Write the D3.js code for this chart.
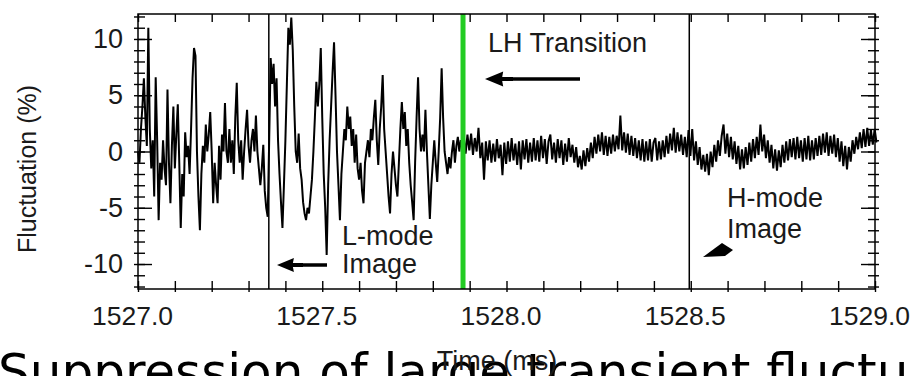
<!DOCTYPE html>
<html>
<head>
<meta charset="utf-8">
<script src="https://cdn.jsdelivr.net/npm/d3@7"></script>
<style>
  html, body { margin: 0; padding: 0; background: #fff; overflow: hidden; }
  svg { display: block; }
  text { font-family: "Liberation Sans", Arial, sans-serif; fill: #1a1a1a; }
</style>
</head>
<body>
<svg id="chart" width="910" height="376"></svg>
<script>
// L-mode part of the trace, sampled every 0.004 ms from 1527.000
const lmodeStart = 1527.0;
const lmodeStep = 0.004;
const lmodeValues = [
  0, -1, 2, 4, 6.5, 3, 0.5, 11, 2, -1.5,
  1, -4, 6.6, 1, -6.1, -1, -2.5, 1, -1.5, -3,
  5.5, -1, -4.6, 0.5, 4, -1.5, 1.5, 4.2, -1, -6.8,
  -2, -4, 1.7, -0.5, 0.5, -2, 2, 6.5, 9.2, 8.5,
  0, -4, -7, -2, 0.5, -1, 2.4, 0, 1.5, 3.5,
  0, -4.6, -1, -3, -4.6, 0.5, -2.5, 1.5, 0, 4.3,
  0, -1, 2, -1, 1, -2, 3, 6.1, 1, -1,
  1, -2.5, 0, 2, 3.7, 0.5, -1, 1, 2, 0,
  3.2, 0, -1.5, -3, -1.5, 0.6, -3.5, -5, -5.8, 1,
  8.3, 6, 7.8, 4, 6.5, 1, -2, -4.5, -6.8, -3,
  1, 6, 11, 9.5, 11.9, 9, 4, 0, -1, 1.6,
  -1.5, -2.5, -4.5, -5.5, -6.1, -5, -5.5, -4, -2.5, 0,
  3, 6.2, 4, 6, 9.2, 3, -2, -5, -9.2, -3,
  1, 4, 7, 9.7, 5, 0, -3, -6.1, -2, 0,
  2, 1, 4, 2, 3.1, 0.5, 2, -1, 1.5, -1.5,
  -2.5, -1, -3.5, -4.6, -1, 0, 1, -0.5, 2, 1,
  3, 4.6, 1, -1.2, 2, 4, 6.8, 2, 0, -2,
  -4, -5.5, -2, 0, -1.5, -3, -4, -1, 2, 4.4,
  2, 3.5, 0.5, 2, -1, -3, -4.5, -6.1, -1, 3,
  6.6, 2, 0, 1.5, 0, 3.7, 0, -3, -6, -3,
  -1, 1, -1, -2.7, 0, 3, 7.4, 3, 0, -1,
  -2, -0.5, -1.5, 0, 1, -1, 0.5, 1.3, 0, 1,
  0.5
];

// H-mode part of the trace, sampled every 0.005 ms from 1527.884
const hmodeStart = 1527.884;
const hmodeStep = 0.005;
const hmodeValues = [
  1.3, -0.2, 1.5, 0.1, 1.6, -0.3, 1.2, 0.0, 2.1, -0.6,
  0.8, -2.5, 0.9, -0.8, 1.0, -1.0, 0.7, -0.9, 1.1, -0.6,
  0.6, -2.1, 0.8, -1.1, 0.9, -0.9, 1.2, -0.8, 0.7, -1.2,
  0.9, -1.6, 1.0, -0.7, 1.1, -1.0, 0.8, -0.9, 1.2, -0.8,
  1.0, -0.9, 1.4, -0.6, 1.1, -1.1, 0.9, 1.5, -0.7, 0.8,
  -1.0, 1.1, -0.6, 1.0, -1.2, 0.7, -0.9, 1.2, -0.5, 0.6,
  -1.0, 0.4, -1.4, -0.4, -1.6, 0.1, -1.3, 0.3, -0.9, 0.8,
  -0.6, 1.3, -0.2, 1.5, 0.0, 1.7, -0.3, 1.4, -0.4, 1.3,
  -0.2, 1.5, 0.0, 1.4, 0.2, 3.2, 0.1, 1.7, -0.1, 1.6,
  -0.3, 1.4, -0.4, 1.2, -0.6, 1.0, -0.8, 1.1, -0.9, 0.9,
  -0.8, 1.1, -0.9, 0.8, 1.2, -0.8, 0.9, -0.7, 1.0, -0.5,
  1.4, -0.2, 1.6, 0.1, 2.1, -0.1, 1.7, 0.0, 1.5, -0.3,
  1.3, -0.5, 1.9, -0.4, 2.0, -0.8, 0.9, -1.2, 0.4, -1.6,
  -0.3, -1.8, -0.2, -2.1, 0.0, -1.4, 0.6, -0.9, 1.0, -0.4,
  1.4, 2.4, -0.2, 1.6, -0.5, 1.3, -0.7, 0.9, -1.1, 0.5,
  -1.6, 0.2, -1.5, 0.4, -1.2, 0.8, -0.9, 1.1, -0.6, 1.3,
  -0.3, 2.4, 0.0, 1.5, -0.6, 1.0, -1.0, 0.6, -1.5, 0.2,
  -1.7, 0.1, -1.4, 0.6, -1.0, 0.9, -0.8, 1.1, -0.5, 1.2,
  -0.7, 1.3, -0.6, 1.0, -0.9, 1.2, -0.7, 1.4, -0.8, 1.0,
  -0.7, 1.2, -0.4, 1.4, -0.3, 1.6, -0.1, 1.7, -0.4, 1.4,
  -0.2, 1.5, -0.5, 1.2, -0.9, 0.9, -1.3, 0.5, -1.6, 0.4,
  -0.9, 1.0, -0.2, 1.3, 0.2, 1.7, 0.3, 2.0, 0.4, 2.1,
  0.5, 1.9, 0.6, 2.0, 0.8
];

const xTickLabels = [1527.0, 1527.5, 1528.0, 1528.5, 1529.0];
const yTickLabels = [-10, -5, 0, 5, 10];
const markerTimes = [1527.355, 1528.496];   // image times
const transitionTime = 1527.882;             // LH transition

const width = 910, height = 376;
const margin = {top: 14, right: 35, bottom: 87, left: 138};

const svg = d3.select("#chart");

const x = d3.scaleLinear()
  .domain([1527, 1529])
  .range([margin.left, width - margin.right]);

const y = d3.scaleLinear()
  .domain([-12.22, 12.22])
  .range([height - margin.bottom, margin.top]);

const data = lmodeValues.map((v, i) => ({t: lmodeStart + i * lmodeStep, v}))
  .concat(hmodeValues.map((v, i) => ({t: hmodeStart + i * hmodeStep, v})));

const minorX = d3.range(0, 21).map(i => 1527 + i * 0.1);
const minorY = d3.range(-12, 13);

// Big slide text behind the chart
svg.append("text")
  .attr("x", -2)
  .attr("y", 389)
  .style("font-family", "'DejaVu Sans', Verdana, sans-serif")
  .style("font-size", "50px")
  .style("fill", "#000")
  .text("Suppression of large transient fluctuations");

// Trace
svg.append("path")
  .datum(data)
  .attr("fill", "none")
  .attr("stroke", "#000")
  .attr("stroke-width", 2)
  .attr("d", d3.line().x(d => x(d.t)).y(d => y(d.v)));

// Image time markers
svg.selectAll(".marker")
  .data(markerTimes)
  .join("line")
  .attr("x1", d => x(d)).attr("x2", d => x(d))
  .attr("y1", y.range()[1]).attr("y2", y.range()[0])
  .attr("stroke", "#000")
  .attr("stroke-width", 1.5);

// LH transition
svg.append("line")
  .attr("x1", x(transitionTime)).attr("x2", x(transitionTime))
  .attr("y1", y.range()[1]).attr("y2", y.range()[0])
  .attr("stroke", "#22cc22")
  .attr("stroke-width", 5);

// Axes
function clean(g) {
  g.select(".domain").remove();
  g.selectAll("line").attr("stroke", "#000").attr("stroke-width", 1.4);
}
const bottomY = y.range()[0], topY = y.range()[1];

svg.append("g").attr("transform", `translate(0,${bottomY})`)
  .call(d3.axisBottom(x).tickValues(minorX).tickSize(-8).tickFormat(""))
  .call(clean);
svg.append("g").attr("transform", `translate(0,${bottomY})`)
  .call(d3.axisBottom(x).tickValues(minorX).tickSize(3).tickFormat(""))
  .call(clean);
svg.append("g").attr("transform", `translate(0,${bottomY})`)
  .call(d3.axisBottom(x).tickValues(xTickLabels).tickSize(0).tickPadding(17)
    .tickFormat(d3.format(".1f")))
  .call(clean)
  .call(g => g.selectAll("text").attr("dx", -6).style("font-size", "26.5px"));

svg.append("g").attr("transform", `translate(0,${topY})`)
  .call(d3.axisTop(x).tickValues(minorX).tickSize(-8).tickFormat(""))
  .call(clean);

const leftX = x.range()[0], rightX = x.range()[1];
svg.append("g").attr("transform", `translate(${leftX},0)`)
  .call(d3.axisLeft(y).tickValues(minorY).tickSize(4).tickFormat(""))
  .call(clean);
svg.append("g").attr("transform", `translate(${leftX},0)`)
  .call(d3.axisLeft(y).tickValues(minorY).tickSize(-7).tickFormat(""))
  .call(clean);
svg.append("g").attr("transform", `translate(${leftX},0)`)
  .call(d3.axisLeft(y).tickValues(yTickLabels).tickSize(-14).tickPadding(15)
    .tickFormat(d => String(d)))
  .call(clean)
  .call(g => g.selectAll("text").style("font-size", "27px"));

svg.append("g").attr("transform", `translate(${rightX},0)`)
  .call(d3.axisRight(y).tickValues(minorY).tickSize(4).tickFormat(""))
  .call(clean);
svg.append("g").attr("transform", `translate(${rightX},0)`)
  .call(d3.axisRight(y).tickValues(minorY).tickSize(-7).tickFormat(""))
  .call(clean);
svg.append("g").attr("transform", `translate(${rightX},0)`)
  .call(d3.axisRight(y).tickValues(yTickLabels).tickSize(-14).tickFormat(""))
  .call(clean);

// Frame
svg.append("rect")
  .attr("x", leftX).attr("y", topY)
  .attr("width", rightX - leftX).attr("height", bottomY - topY)
  .attr("fill", "none").attr("stroke", "#000").attr("stroke-width", 1.5);

// Axis titles
svg.append("text")
  .attr("x", 497).attr("y", 370)
  .attr("text-anchor", "middle")
  .style("font-size", "27px")
  .text("Time (ms)");

svg.append("text")
  .attr("transform", "translate(36,169) rotate(-90)")
  .attr("text-anchor", "middle")
  .style("font-size", "25px")
  .text("Fluctuation (%)");

// Annotations
function label(lines, x0, y0, gap) {
  lines.forEach((s, i) => {
    svg.append("text").attr("x", x0).attr("y", y0 + i * gap)
      .style("font-size", "27px").text(s);
  });
}
label(["LH Transition"], 488, 52, 0);
label(["L-mode", "Image"], 342, 245, 28);
label(["H-mode", "Image"], 727, 207, 31);

// left-pointing arrow with a barbed head
function arrow(tipX, tipY, tailX, headLen, headHalf) {
  svg.append("line")
    .attr("x1", tipX + headLen - 2).attr("x2", tailX)
    .attr("y1", tipY).attr("y2", tipY)
    .attr("stroke", "#000").attr("stroke-width", 3.5);
  const b = tipX + headLen * 0.65;
  svg.append("path")
    .attr("d", `M${tipX},${tipY} L${b},${tipY - headHalf} L${b - 1},${tipY - 2}
      L${tipX + headLen},${tipY - 2} L${tipX + headLen},${tipY + 2}
      L${b - 1},${tipY + 2} L${b},${tipY + headHalf} Z`)
    .attr("fill", "#000");
}
arrow(485, 79, 580, 28, 7.5);
arrow(277, 265, 327, 26, 7);

// H-mode arrow head
svg.append("path")
  .attr("d", "M703,257 L722,243 L733,250 L725,256 Z")
  .attr("fill", "#000");
</script>
</body>
</html>
